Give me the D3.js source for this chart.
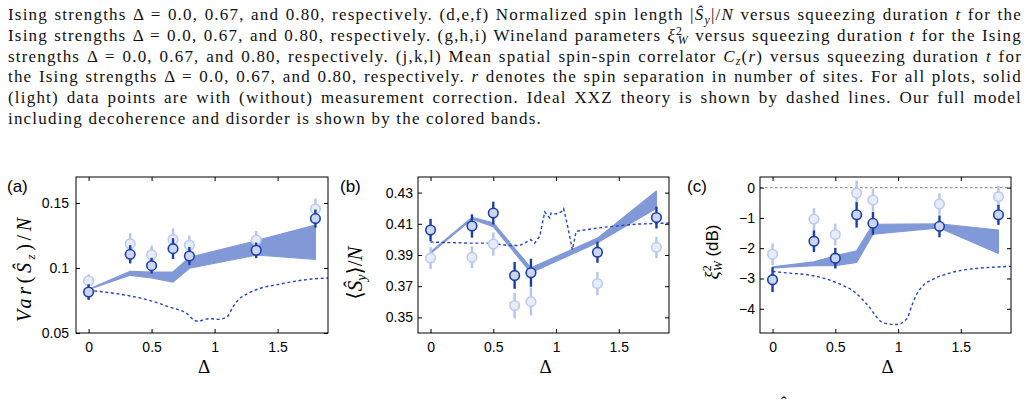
<!DOCTYPE html>
<html>
<head>
<meta charset="utf-8">
<script src="https://cdn.jsdelivr.net/npm/d3@7"></script>
<style>
  body { margin: 0; background: #fff; width: 1028px; height: 407px; overflow: hidden; position: relative; }
  .caption { position: absolute; left: 8px; top: 5px; width: 1014px; font-family: "Liberation Serif", "DejaVu Serif", "Noto Serif", serif; font-size: 17px; color: #111; }
  .caption .ln { line-height: 20.8px; height: 20.8px; white-space: nowrap; text-align: justify; text-align-last: justify; }
  .caption .ln.last { text-align: left; text-align-last: left; }
  .caption .sb { font-size: 0.7em; position: relative; top: 0.3em; line-height: 0; }
  .caption .sp { font-size: 0.7em; position: relative; top: -0.45em; line-height: 0; }
  .measure { position: absolute; visibility: hidden; white-space: nowrap; }
  svg { position: absolute; left: 0; top: 0; }
  .tick text { font-family: "Liberation Sans", Arial, sans-serif; font-size: 14px; fill: #000; }
</style>
</head>
<body>
<script>
// x positions of the measurements (Ising strength)
const deltas = [0, 0.33, 0.5, 0.67, 0.8, 1.33, 1.8];

// (a) Var(Sz)/N
const varDark = [0.0815, 0.1105, 0.1018, 0.1149, 0.1092, 0.1136, 0.138];
const varDarkErr = [0.006, 0.007, 0.006, 0.008, 0.007, 0.006, 0.007];
const varLight = [0.0902, 0.1187, 0.1102, 0.122, 0.1175, 0.1215, 0.1454];
const varLightErr = [0.005, 0.008, 0.007, 0.0085, 0.0075, 0.007, 0.008];
const varBandHi = [0.0836, 0.0974, 0.0969, 0.0969, 0.1082, 0.121, 0.133];
const varBandLo = [0.0836, 0.0944, 0.0923, 0.0892, 0.0998, 0.11, 0.1067];
const varIdealD = [0, 0.17, 0.33, 0.48, 0.64, 0.78, 0.84, 0.87, 0.92, 0.97, 1.03, 1.1, 1.145, 1.185, 1.26, 1.37, 1.5, 1.64, 1.77, 1.9];
const varIdeal = [0.0828, 0.081, 0.0785, 0.0752, 0.07, 0.0649, 0.0597, 0.059, 0.0605, 0.061, 0.0605, 0.0625, 0.07, 0.0752, 0.0802, 0.0846, 0.0872, 0.0898, 0.0915, 0.0923];

// (b) <Sy>/N
const syDark = [0.406, 0.4086, 0.4169, 0.3769, 0.3786, 0.3918, 0.414];
const syDarkErr = [0.0072, 0.0075, 0.0073, 0.0086, 0.009, 0.0068, 0.007];
const syLight = [0.388, 0.3886, 0.397, 0.3576, 0.3601, 0.3717, 0.3949];
const syLightErr = [0.007, 0.007, 0.0075, 0.0083, 0.0089, 0.0075, 0.0068];
const syBandHi = [0.392, 0.4141, 0.4107, 0.3943, 0.3818, 0.4008, 0.431];
const syBandLo = [0.391, 0.4129, 0.4082, 0.3914, 0.3786, 0.3979, 0.420];
const syIdealD = [0, 0.32, 0.48, 0.62, 0.71, 0.8, 0.83, 0.87, 0.91, 0.95, 0.96, 1.0, 1.04, 1.06, 1.09, 1.13, 1.16, 1.19, 1.37, 1.64, 1.9];
const syIdeal = [0.3983, 0.3976, 0.3976, 0.3961, 0.3961, 0.3998, 0.3976, 0.402, 0.4176, 0.4137, 0.4169, 0.4163, 0.4176, 0.4197, 0.4094, 0.3934, 0.4051, 0.4056, 0.4077, 0.4098, 0.4105];

// (c) Wineland parameter in dB
const xiDark = [-3.04, -1.77, -2.33, -0.9, -1.18, -1.28, -0.9];
const xiDarkErr = [0.41, 0.36, 0.34, 0.42, 0.38, 0.36, 0.33];
const xiLight = [-2.2, -1.04, -1.55, -0.18, -0.41, -0.54, -0.3];
const xiLightErr = [0.36, 0.36, 0.36, 0.41, 0.37, 0.35, 0.36];
const xiBandHi = [-2.62, -2.45, -2.25, -2.09, -1.21, -1.2, -1.4];
const xiBandLo = [-2.65, -2.58, -2.58, -2.47, -1.54, -1.33, -2.17];
const xiIdealD = [0, 0.125, 0.31, 0.5, 0.66, 0.76, 0.87, 0.92, 0.99, 1.07, 1.11, 1.15, 1.2, 1.28, 1.39, 1.52, 1.65, 1.9];
const xiIdeal = [-2.77, -2.82, -2.9, -3.12, -3.47, -3.89, -4.44, -4.5, -4.52, -4.33, -3.89, -3.51, -3.23, -3.02, -2.85, -2.72, -2.66, -2.6];

const xTicks = [0, 0.5, 1, 1.5];

const col = {
  dark: "#1c3fa6", darkFill: "#ccd6f0",
  light: "#bccaee", lightFill: "#e7ecf8",
  band: "#8199d7", ideal: "#2447c0"
};
const serif = "Liberation Serif, DejaVu Serif, Noto Serif, serif";
const sans = "Liberation Sans, Arial, sans-serif";

// caption above the figure
const captionLines = [
  'Ising strengths Δ = 0.0, 0.67, and 0.80, respectively. (d,e,f) Normalized spin length |<i>Ŝ</i><span class="sb"><i>y</i></span>|/<i>N</i> versus squeezing duration <i>t</i> for the',
  'Ising strengths Δ = 0.0, 0.67, and 0.80, respectively. (g,h,i) Wineland parameters <i>ξ</i><span class="sp">2</span><span class="sb" style="margin-left:-0.45em"><i>W</i></span> versus squeezing duration <i>t</i> for the Ising',
  'strengths Δ = 0.0, 0.67, and 0.80, respectively. (j,k,l) Mean spatial spin-spin correlator <i>C</i><span class="sb"><i>z</i></span>(<i>r</i>) versus squeezing duration <i>t</i> for',
  'the Ising strengths Δ = 0.0, 0.67, and 0.80, respectively. <i>r</i> denotes the spin separation in number of sites. For all plots, solid',
  '(light) data points are with (without) measurement correction. Ideal XXZ theory is shown by dashed lines. Our full model',
  'including decoherence and disorder is shown by the colored bands.'
];

const cap = d3.select("body").append("div").attr("class", "caption");

// the serif here is narrower than the original TeX font: widen the letters a bit
// so that the justified lines get normal word gaps
const probe = cap.append("span").attr("class", "measure");
let spacing = Infinity;
captionLines.slice(0, -1).forEach(l => {
  probe.html(l);
  const w = probe.node().getBoundingClientRect().width;
  const n = probe.node().textContent.length;
  spacing = Math.min(spacing, (1004 - w) / n);
});
probe.remove();
spacing = Math.max(-0.5, Math.min(1.2, spacing));
cap.style("letter-spacing", spacing + "px");

cap.selectAll("div").data(captionLines).join("div")
  .attr("class", (d, i) => i === captionLines.length - 1 ? "ln last" : "ln")
  .html(d => d);

const svg = d3.select("body").append("svg")
  .attr("width", 1028).attr("height", 407);

// cut-off hat of the next caption line at the bottom edge
svg.append("text").attr("x", 781).attr("y", 408)
  .attr("font-family", serif).attr("font-size", 17)
  .text("ˆ");

function drawPanel(p) {
  const x = d3.scaleLinear().domain([-0.1, 1.9]).range([p.left, p.right]);
  const y = d3.scaleLinear().domain(p.yDomain).range([p.bottom, p.top]);
  const g = svg.append("g");

  const clipId = "clip-" + p.tag;
  g.append("clipPath").attr("id", clipId)
    .append("rect").attr("x", p.left).attr("y", p.top)
    .attr("width", p.right - p.left).attr("height", p.bottom - p.top);
  const inner = g.append("g").attr("clip-path", `url(#${clipId})`);

  if (p.zeroLine) {
    inner.append("line")
      .attr("x1", p.left).attr("x2", p.right)
      .attr("y1", y(0)).attr("y2", y(0))
      .attr("stroke", "#9a9a9a").attr("stroke-width", 1.3)
      .attr("stroke-dasharray", "2.5,2.5");
  }

  // full-model band
  const bandData = deltas.map((d, i) => ({d, hi: p.bandHi[i], lo: p.bandLo[i]}));
  inner.append("path")
    .datum(bandData)
    .attr("d", d3.area().x(d => x(d.d)).y0(d => y(d.lo)).y1(d => y(d.hi)))
    .attr("fill", col.band).attr("stroke", col.band).attr("stroke-width", 1.2)
    .attr("stroke-linejoin", "round");

  // ideal XXZ theory
  const idealData = p.idealD.map((d, i) => ({d, v: p.ideal[i]}));
  inner.append("path")
    .datum(idealData)
    .attr("d", d3.line().x(d => x(d.d)).y(d => y(d.v)).curve(p.curve))
    .attr("fill", "none").attr("stroke", col.ideal).attr("stroke-width", 1.4)
    .attr("stroke-dasharray", "3,2.6");

  // data points: light (raw) first, dark (corrected) on top
  const series = [
    {vals: p.light, err: p.lightErr, stroke: col.light, fill: col.lightFill, bar: "#b6c5ec"},
    {vals: p.dark, err: p.darkErr, stroke: col.dark, fill: col.darkFill, bar: col.dark}
  ];
  series.forEach(s => {
    const pts = deltas.map((d, i) => ({d, v: s.vals[i], e: s.err[i]}));
    const sg = g.append("g");
    sg.selectAll("line").data(pts).join("line")
      .attr("x1", d => x(d.d)).attr("x2", d => x(d.d))
      .attr("y1", d => y(d.v - d.e)).attr("y2", d => y(d.v + d.e))
      .attr("stroke", s.bar).attr("stroke-width", 2.4);
    sg.selectAll("circle").data(pts).join("circle")
      .attr("cx", d => x(d.d)).attr("cy", d => y(d.v))
      .attr("r", 4.8)
      .attr("fill", s.fill).attr("stroke", s.stroke).attr("stroke-width", 1.6);
  });

  // axes: MATLAB style box with inward ticks
  g.append("g").attr("transform", `translate(0,${p.bottom})`)
    .call(d3.axisBottom(x).tickValues(xTicks).tickSize(-4).tickPadding(9).tickFormat(d3.format("")))
    .call(a => a.select(".domain").remove());
  g.append("g").attr("transform", `translate(0,${p.top})`)
    .call(d3.axisTop(x).tickValues(xTicks).tickSize(-4).tickFormat(""))
    .call(a => a.select(".domain").remove());
  g.append("g").attr("transform", `translate(${p.left},0)`)
    .call(d3.axisLeft(y).tickValues(p.yTicks).tickSize(-4).tickPadding(p.yPad).tickFormat(p.yFmt))
    .call(a => a.select(".domain").remove());
  g.append("g").attr("transform", `translate(${p.right},0)`)
    .call(d3.axisRight(y).tickValues(p.yTicks).tickSize(-4).tickFormat(""))
    .call(a => a.select(".domain").remove());
  g.selectAll(".tick line").attr("stroke", "#000");

  g.append("rect")
    .attr("x", p.left).attr("y", p.top)
    .attr("width", p.right - p.left).attr("height", p.bottom - p.top)
    .attr("fill", "none").attr("stroke", "#000").attr("stroke-width", 1);

  // panel tag
  g.append("text").attr("x", p.tagX).attr("y", 192)
    .attr("font-family", sans).attr("font-size", 17)
    .text(`(${p.tag})`);

  // x label
  g.append("text").attr("x", (p.left + p.right) / 2 + 2).attr("y", 373)
    .attr("text-anchor", "middle")
    .attr("font-family", serif).attr("font-size", 19)
    .text("Δ");

  // y label
  const yl = g.append("text")
    .attr("transform", `translate(${p.ylabX},${p.ylabY}) rotate(-90)`)
    .attr("text-anchor", "middle")
    .attr("font-family", serif).attr("font-size", p.ylabSize);
  p.ylab(yl);
}

drawPanel({
  tag: "a", tagX: 7, left: 76, right: 328, top: 177, bottom: 333,
  yDomain: [0.05, 0.17], yTicks: [0.05, 0.1, 0.15], yFmt: d3.format(""), yPad: 7,
  dark: varDark, darkErr: varDarkErr, light: varLight, lightErr: varLightErr,
  bandHi: varBandHi, bandLo: varBandLo, idealD: varIdealD, ideal: varIdeal,
  curve: d3.curveMonotoneX,
  ylabX: 31, ylabY: 270, ylabSize: 20,
  ylab: t => {
    t.attr("textLength", 104).attr("lengthAdjust", "spacing");
    t.append("tspan").attr("font-style", "italic").text("Var");
    t.append("tspan").text("(");
    t.append("tspan").attr("font-style", "italic").text("Ŝ");
    t.append("tspan").attr("font-style", "italic").attr("font-size", 13).attr("dy", 4).text("z");
    t.append("tspan").attr("dy", -4).text(")/");
    t.append("tspan").attr("font-style", "italic").text("N");
  }
});

drawPanel({
  tag: "b", tagX: 340, left: 418, right: 669, top: 177, bottom: 333,
  yDomain: [0.34, 0.44], yTicks: [0.35, 0.37, 0.39, 0.41, 0.43], yFmt: d3.format(".2f"), yPad: 5,
  dark: syDark, darkErr: syDarkErr, light: syLight, lightErr: syLightErr,
  bandHi: syBandHi, bandLo: syBandLo, idealD: syIdealD, ideal: syIdeal,
  curve: d3.curveLinear,
  ylabX: 362, ylabY: 273, ylabSize: 21,
  ylab: t => {
    t.append("tspan").text("⟨");
    t.append("tspan").attr("font-style", "italic").text("Ŝ");
    t.append("tspan").attr("font-style", "italic").attr("font-size", 14).attr("dy", 4).text("y");
    t.append("tspan").attr("dy", -4).text("⟩/");
    t.append("tspan").attr("font-style", "italic").text("N");
  }
});

drawPanel({
  tag: "c", tagX: 687, left: 760, right: 1011, top: 177, bottom: 333,
  yDomain: [-4.8, 0.35], yTicks: [-4, -3, -2, -1, 0], yFmt: d3.format(""), yPad: 5,
  dark: xiDark, darkErr: xiDarkErr, light: xiLight, lightErr: xiLightErr,
  bandHi: xiBandHi, bandLo: xiBandLo, idealD: xiIdealD, ideal: xiIdeal,
  curve: d3.curveMonotoneX, zeroLine: true,
  ylabX: 718, ylabY: 252, ylabSize: 19,
  ylab: t => {
    t.append("tspan").attr("font-style", "italic").text("ξ");
    t.append("tspan").attr("font-size", 12).attr("dy", -7).text("2");
    t.append("tspan").attr("font-style", "italic").attr("font-size", 12).attr("dx", -6).attr("dy", 11).text("W");
    t.append("tspan").attr("dy", -4).attr("font-family", sans).attr("font-size", 17).text(" (dB)");
  }
});
</script>
</body>
</html>
